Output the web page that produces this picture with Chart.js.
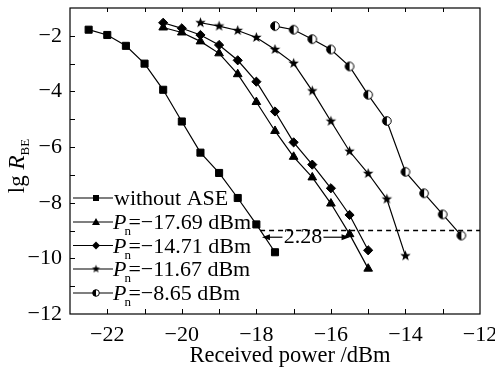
<!DOCTYPE html>
<html>
<head>
<meta charset="utf-8">
<script src="https://cdn.jsdelivr.net/npm/chart.js@4.4.0/dist/chart.umd.min.js"></script>
<style>
  html, body { margin: 0; padding: 0; background: #fff; }
</style>
</head>
<body>
<canvas id="berChart" width="495" height="369"></canvas>
<script>
// Values
const powerNoASE = [-22.5, -22, -21.5, -21, -20.5, -20, -19.5, -19, -18.5, -18, -17.5];
const berNoASE = [-1.78, -1.97, -2.36, -3.0, -3.94, -5.08, -6.2, -6.93, -7.83, -8.78, -9.78];

const power1769 = [-20.5, -20, -19.5, -19, -18.5, -18, -17.5, -17, -16.5, -16, -15.5, -15];
const ber1769 = [-1.70, -1.88, -2.2, -2.63, -3.38, -4.38, -5.42, -6.35, -7.09, -8.03, -9.13, -10.37];

const power1471 = [-20.5, -20, -19.5, -19, -18.5, -18, -17.5, -17, -16.5, -16, -15.5, -15];
const ber1471 = [-1.53, -1.73, -1.97, -2.33, -2.88, -3.65, -4.72, -5.83, -6.63, -7.48, -8.44, -9.71];

const power1167 = [-19.5, -19, -18.5, -18, -17.5, -17, -16.5, -16, -15.5, -15, -14.5, -14];
const ber1167 = [-1.53, -1.65, -1.81, -2.06, -2.49, -2.99, -3.98, -5.07, -6.15, -6.95, -7.87, -9.91];

const power865 = [-17.5, -17, -16.5, -16, -15.5, -15, -14.5, -14, -13.5, -13, -12.5];
const ber865 = [-1.65, -1.78, -2.12, -2.49, -3.1, -4.12, -5.06, -6.89, -7.66, -8.42, -9.18];

const thresholdX = [-17.9, -12];
const thresholdY = [-9, -9];

// "2.28" gap annotation (data units)
const gapText = '2.28';
const gapY = -9.24;
const gapArrowLeft = [-17.3, -17.85];
const gapArrowRight = [-16.2, -15.5];
const gapTextX = -16.75;

const legendNames = ['without ASE', '−17.69 dBm', '−14.71 dBm', '−11.67 dBm', '−8.65 dBm'];
const xTickValues = [-22, -20, -18, -16, -14, -12];
const yTickValues = [-12, -10, -8, -6, -4, -2];

const FONT = "'Liberation Serif', 'DejaVu Serif', serif";

function pts(xs, ys) {
    return xs.map((x, i) => ({ x: x, y: ys[i] }));
}

// custom marker images
function makeStar(r) {
    const c = document.createElement('canvas');
    const s = Math.ceil(r * 2 + 2);
    c.width = s; c.height = s;
    const g = c.getContext('2d');
    g.translate(s / 2, s / 2);
    g.beginPath();
    for (let i = 0; i < 10; i++) {
        const rr = i % 2 === 0 ? r : r * 0.42;
        const a = -Math.PI / 2 + i * Math.PI / 5;
        g.lineTo(Math.cos(a) * rr, Math.sin(a) * rr);
    }
    g.closePath();
    g.fillStyle = '#000';
    g.fill();
    return c;
}

function makeHalfCircle(r) {
    const c = document.createElement('canvas');
    const s = Math.ceil(r * 2 + 3);
    c.width = s; c.height = s;
    const g = c.getContext('2d');
    g.translate(s / 2, s / 2);
    g.beginPath();
    g.arc(0, 0, r, 0, Math.PI * 2);
    g.fillStyle = '#fff';
    g.fill();
    g.beginPath();
    g.arc(0, 0, r, Math.PI / 2, Math.PI * 1.5);
    g.closePath();
    g.fillStyle = '#000';
    g.fill();
    g.beginPath();
    g.arc(0, 0, r, 0, Math.PI * 2);
    g.lineWidth = 1;
    g.strokeStyle = '#000';
    g.stroke();
    return c;
}

const starImg = makeStar(5.5);
const halfImg = makeHalfCircle(4.3);
const starSmall = makeStar(4.2);
const halfSmall = makeHalfCircle(3.3);

function series(data, style, radius) {
    return {
        data: data,
        borderColor: '#000',
        backgroundColor: '#000',
        borderWidth: 1.2,
        pointStyle: style,
        pointRadius: radius,
        pointBorderWidth: 1,
        pointBackgroundColor: '#000',
        pointBorderColor: '#000',
        showLine: true,
        tension: 0
    };
}

const decorations = {
    id: 'decorations',
    afterDraw(chart) {
        const ctx = chart.ctx;
        const xs = chart.scales.x;
        const ys = chart.scales.y;
        const a = chart.chartArea;
        ctx.save();

        // frame
        ctx.strokeStyle = '#000';
        ctx.lineWidth = 1.2;
        ctx.strokeRect(a.left, a.top, a.right - a.left, a.bottom - a.top);

        // inward ticks
        ctx.lineWidth = 1;
        ctx.beginPath();
        for (let v = -22; v <= -13; v++) {
            const px = Math.round(xs.getPixelForValue(v)) + 0.5;
            ctx.moveTo(px, a.bottom); ctx.lineTo(px, a.bottom - 5);
            ctx.moveTo(px, a.top); ctx.lineTo(px, a.top + 4);
        }
        for (let v = -11; v <= -2; v++) {
            const py = Math.round(ys.getPixelForValue(v)) + 0.5;
            ctx.moveTo(a.left, py); ctx.lineTo(a.left + 5, py);
        }
        ctx.stroke();

        // gap annotation
        const yA = ys.getPixelForValue(gapY);
        ctx.fillStyle = '#000';
        ctx.font = '22px ' + FONT;
        ctx.textAlign = 'center';
        ctx.textBaseline = 'middle';
        ctx.fillText(gapText, xs.getPixelForValue(gapTextX), yA);
        [gapArrowLeft, gapArrowRight].forEach(arr => {
            const x0 = xs.getPixelForValue(arr[0]);
            const x1 = xs.getPixelForValue(arr[1]);
            const dir = Math.sign(x1 - x0);
            ctx.beginPath();
            ctx.moveTo(x0, yA); ctx.lineTo(x1 - dir * 4, yA);
            ctx.lineWidth = 1.2;
            ctx.stroke();
            ctx.beginPath();
            ctx.moveTo(x1, yA);
            ctx.lineTo(x1 - dir * 8, yA - 3);
            ctx.lineTo(x1 - dir * 8, yA + 3);
            ctx.closePath();
            ctx.fill();
        });

        // legend
        const rowsY = [198, 222, 245.5, 269, 293];
        const styles = ['rect', 'triangle', 'diamond', 'star', 'half'];
        rowsY.forEach((ry, i) => {
            ctx.beginPath();
            ctx.moveTo(73, ry); ctx.lineTo(113, ry);
            ctx.lineWidth = 1.2;
            ctx.stroke();
            const mx = 96;
            ctx.beginPath();
            if (styles[i] === 'rect') {
                ctx.fillRect(mx - 3, ry - 3, 6, 6);
            } else if (styles[i] === 'triangle') {
                ctx.moveTo(mx, ry - 4); ctx.lineTo(mx + 4, ry + 3); ctx.lineTo(mx - 4, ry + 3);
                ctx.closePath(); ctx.fill();
            } else if (styles[i] === 'diamond') {
                ctx.moveTo(mx, ry - 4); ctx.lineTo(mx + 4, ry); ctx.lineTo(mx, ry + 4); ctx.lineTo(mx - 4, ry);
                ctx.closePath(); ctx.fill();
            } else if (styles[i] === 'star') {
                ctx.drawImage(starSmall, mx - starSmall.width / 2, ry - starSmall.height / 2);
            } else {
                ctx.drawImage(halfSmall, mx - halfSmall.width / 2, ry - halfSmall.height / 2);
            }
            ctx.textAlign = 'left';
            ctx.textBaseline = 'alphabetic';
            const base = ry + 7;
            if (i === 0) {
                ctx.font = '22px ' + FONT;
                ctx.fillText(legendNames[i], 114, base);
            } else {
                ctx.font = 'italic 22px ' + FONT;
                ctx.fillText('P', 113, base);
                const wP = ctx.measureText('P').width;
                ctx.font = '13px ' + FONT;
                ctx.fillText('n', 113 + wP - 2, base + 6);
                ctx.font = '22px ' + FONT;
                ctx.fillText('=' + legendNames[i], 113 + wP + 2, base);
            }
        });

        // axis titles
        ctx.font = '22.5px ' + FONT;
        ctx.textAlign = 'center';
        ctx.textBaseline = 'alphabetic';
        ctx.fillText('Received power /dBm', 290, 362);

        ctx.save();
        ctx.translate(24, 166);
        ctx.rotate(-Math.PI / 2);
        ctx.textAlign = 'left';
        ctx.font = '23px ' + FONT;
        const w1 = ctx.measureText('lg ').width;
        ctx.font = 'italic 23px ' + FONT;
        const w2 = ctx.measureText('R').width;
        ctx.font = '13px ' + FONT;
        const w3 = ctx.measureText('BE').width;
        let tx = -(w1 + w2 + w3) / 2;
        ctx.font = '23px ' + FONT;
        ctx.fillText('lg ', tx, 0); tx += w1;
        ctx.font = 'italic 23px ' + FONT;
        ctx.fillText('R', tx, 0); tx += w2;
        ctx.font = '13px ' + FONT;
        ctx.fillText('BE', tx, 5);
        ctx.restore();

        ctx.restore();
    }
};

const ctx = document.getElementById('berChart').getContext('2d');
new Chart(ctx, {
    type: 'scatter',
    data: {
        datasets: [
            series(pts(powerNoASE, berNoASE), 'rect', 5),
            series(pts(power1769, ber1769), 'triangle', 5),
            series(pts(power1471, ber1471), 'rectRot', 4.6),
            series(pts(power1167, ber1167), starImg, 5),
            series(pts(power865, ber865), halfImg, 5),
            {
                data: pts(thresholdX, thresholdY),
                borderColor: '#000',
                borderWidth: 1.5,
                borderDash: [5, 4],
                pointRadius: 0,
                showLine: true
            }
        ]
    },
    options: {
        responsive: false,
        animation: false,
        layout: { padding: { top: 8, right: 15, left: 0, bottom: 0 } },
        plugins: {
            legend: { display: false },
            tooltip: { enabled: false }
        },
        scales: {
            x: {
                type: 'linear',
                min: -23,
                max: -12,
                afterFit(scale) {
                    scale.height = 55;
                    scale.paddingLeft = 0;
                    scale.paddingRight = 0;
                },
                afterBuildTicks(scale) {
                    scale.ticks = xTickValues.map(v => ({ value: v }));
                },
                grid: { display: false, drawTicks: false },
                border: { display: false },
                ticks: {
                    color: '#000',
                    padding: 8,
                    maxRotation: 0,
                    autoSkip: false,
                    font: { family: FONT, size: 22 },
                    callback: v => (v < 0 ? '−' : '') + Math.abs(v)
                }
            },
            y: {
                type: 'linear',
                min: -12,
                max: -1,
                afterFit(scale) {
                    scale.width = 70;
                    scale.paddingTop = 0;
                    scale.paddingBottom = 0;
                },
                afterBuildTicks(scale) {
                    scale.ticks = yTickValues.map(v => ({ value: v }));
                },
                grid: { display: false, drawTicks: false },
                border: { display: false },
                ticks: {
                    color: '#000',
                    padding: 8,
                    autoSkip: false,
                    font: { family: FONT, size: 22 },
                    callback: v => (v < 0 ? '−' : '') + Math.abs(v)
                }
            }
        }
    },
    plugins: [decorations]
});
</script>
</body>
</html>
